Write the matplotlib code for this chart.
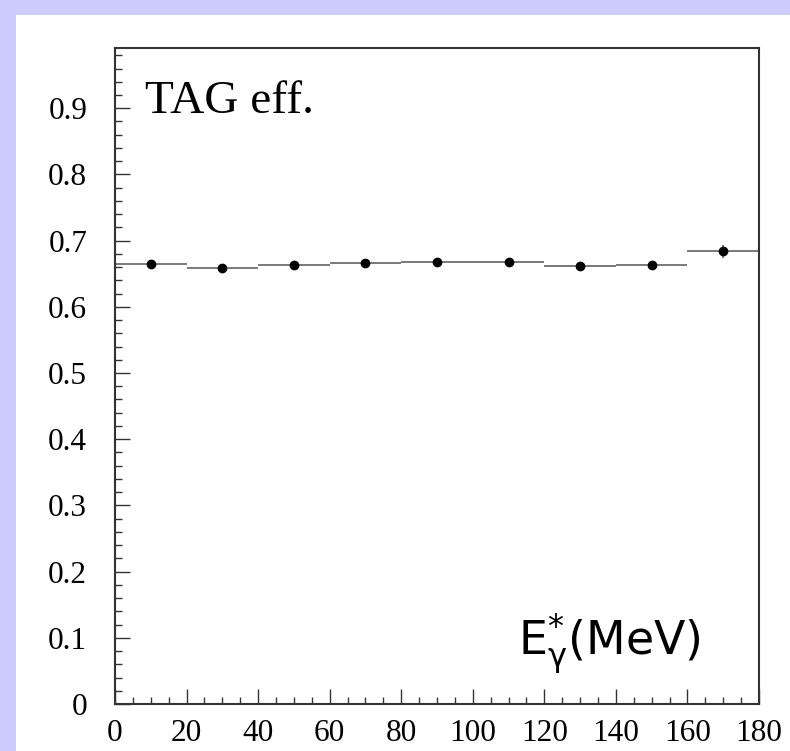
import numpy as np
import matplotlib.pyplot as plt
from matplotlib.patches import Rectangle
from matplotlib.ticker import MultipleLocator

# TAG efficiency per photon energy bin (20 MeV wide)
bin_centers = [10, 30, 50, 70, 90, 110, 130, 150, 170]
bin_halfwidth = [10, 10, 10, 10, 10, 10, 10, 10, 10]
tag_eff = [0.664, 0.659, 0.663, 0.666, 0.668, 0.667, 0.661, 0.663, 0.684]
tag_err = [0.003, 0.003, 0.003, 0.003, 0.003, 0.003, 0.003, 0.003, 0.010]

x_ticks = [0, 20, 40, 60, 80, 100, 120, 140, 160, 180]
y_ticks = [0, 0.1, 0.2, 0.3, 0.4, 0.5, 0.6, 0.7, 0.8, 0.9]

W, H = 790, 751
fig = plt.figure(figsize=(W / 100, H / 100), dpi=100, facecolor="#ccccff")
fig.patches.append(Rectangle((16 / W, 0), 1 - 16 / W, 1 - 15 / H,
                             transform=fig.transFigure, facecolor="white",
                             edgecolor="none", zorder=-10))

ax = fig.add_axes([115 / W, 1 - 704 / H, (759 - 115) / W, (704 - 48) / H])
ax.set_zorder(5)
ax.errorbar(bin_centers, tag_eff, xerr=bin_halfwidth, yerr=tag_err,
            fmt="o", color="black", ms=6, ecolor="#555555", elinewidth=1.1,
            capsize=0)

ax.set_xlim(0, 180)
ax.set_ylim(0, 0.991)
ax.set_xticks(x_ticks)
ax.set_yticks(y_ticks)
ax.set_xticklabels([str(v) for v in x_ticks])
ax.set_yticklabels(["0"] + [f"{v:.1f}" for v in y_ticks[1:]])
ax.xaxis.set_minor_locator(MultipleLocator(5))
ax.yaxis.set_minor_locator(MultipleLocator(0.02))
ax.tick_params(which="both", direction="in", top=False, right=False,
               color="#333333", width=1.0)
ax.tick_params(which="major", length=10.5)
ax.tick_params(which="minor", length=5)
ax.tick_params(axis="y", pad=20)
ax.tick_params(axis="x", pad=11)
for lab in ax.get_xticklabels() + ax.get_yticklabels():
    lab.set_family("Liberation Serif")
    lab.set_fontsize(22.5)
for sp in ax.spines.values():
    sp.set_linewidth(1.5)
    sp.set_color("#333333")

ax.text(30 / 644, (704 - 113) / 656, "TAG eff.", transform=ax.transAxes,
        family="Liberation Serif", fontsize=34, va="baseline", ha="left")
ax.text((518 - 115) / 644, (704 - 655) / 656,
        r"E$^{*}_{\mathrm{\gamma}}$(MeV)", transform=ax.transAxes,
        family="DejaVu Sans", fontsize=33, va="baseline", ha="left")

fig.savefig("out.png", dpi=100, facecolor=fig.get_facecolor())
